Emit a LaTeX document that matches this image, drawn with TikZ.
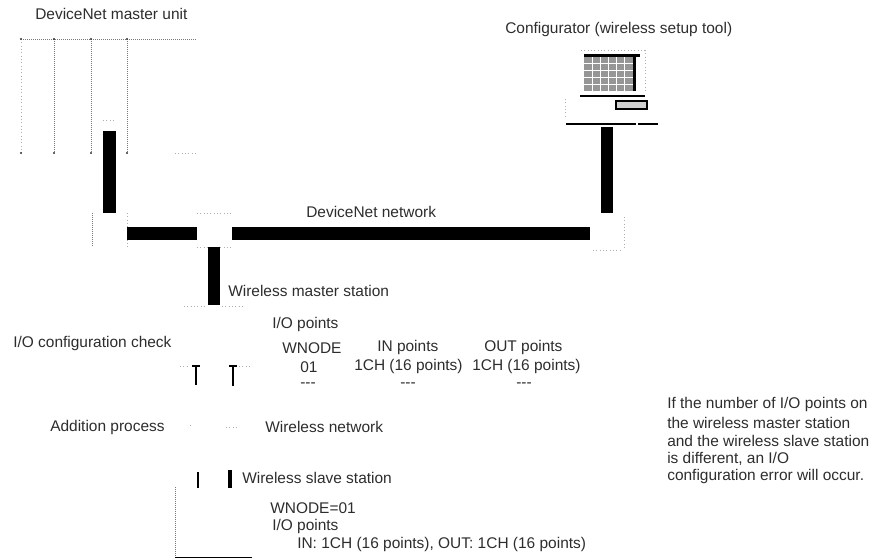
\documentclass[tikz,border=0pt]{standalone}
\usepackage{fontspec}
\setmainfont{Liberation Sans}
\definecolor{labelgray}{RGB}{45,45,45}
\definecolor{screengray}{RGB}{150,150,150}
\definecolor{dotgray}{RGB}{120,120,120}
\tikzset{
  lbl/.style={anchor=west,inner sep=0pt,font=\fontsize{11.6}{13}\selectfont,text=labelgray},
  netbar/.style={black,line width=9.6pt},
  dotline/.style={dotgray,line width=0.5pt,densely dotted},
  fadeline/.style={dotgray!60,line width=0.5pt,dotted},
  thinbar/.style={black,line width=2.2pt}
}
\newcommand{\dotstretch}[2]{%
  \draw[fadeline] (#1) -- (#2);
}
\begin{document}
\begin{tikzpicture}[x=0.75pt,y=-0.75pt]
    \useasboundingbox (0,0) rectangle (876,559);
    % master unit
    \coordinate (unitnw) at (21,39);
    \coordinate (unitne) at (197,39);
    \coordinate (slotb) at (54,39);
    \coordinate (slotc) at (91,39);
    \coordinate (slotd) at (127,39);
    \draw[dotline] (unitnw) -- (unitne);
    \dotstretch{unitnw}{21,153}
    \draw[dotline] (slotb) -- (54,153);
    \draw[dotline] (slotc) -- (91,153);
    \draw[dotline] (slotd) -- (127,153);
    \dotstretch{175,153}{197,153}
    \dotstretch{103,120}{116,120}
    \foreach \px in {21,54,91,127} {
      \fill[black!80] (\px,39) circle (0.9pt);
      \fill[black!80] (\px,153) circle (0.8pt);
    }
    % tee boxes on the network
    \coordinate (unittop) at (109.5,131);
    \coordinate (teeleft) at (109.5,213);
    \coordinate (teeleftout) at (127,233.5);
    \coordinate (teemidin) at (197,233.5);
    \coordinate (teemidout) at (232,233.5);
    \coordinate (teerightin) at (590,233.5);
    \coordinate (teemidbot) at (214,247);
    \coordinate (masterbot) at (214,305);
    \coordinate (pcbot) at (607,127);
    \coordinate (pctee) at (607,213);
    \draw[dotline] (92,213) -- (92,247);
    \dotstretch{127,213}{127,247}
    \dotstretch{197,213}{232,213}
    \dotstretch{197,247}{232,247}
    \dotstretch{624,217}{624,250}
    \dotstretch{593,250}{622,250}
    \draw[netbar] (unittop) -- (teeleft);
    \draw[netbar] (teeleftout) -- (teemidin);
    \draw[netbar] (teemidout) -- (teerightin);
    \draw[netbar] (teemidbot) -- (masterbot);
    \draw[netbar] (pcbot) -- (pctee);
    % configurator
    \coordinate (screennw) at (584,56);
    \coordinate (screense) at (633,91);
    \path[fill=screengray] (screennw) rectangle (screense);
    \foreach \gx in {592,600,608,616,624} {
      \draw[white,line width=0.5pt] (\gx,56) -- (\gx,91);
    }
    \foreach \gy in {63,70,77,84} {
      \draw[white,line width=0.5pt] (584,\gy) -- (633,\gy);
    }
    \draw[black,line width=1.6pt] (584,55.5) -- (640,55.5);
    \draw[black,line width=2pt] (634.5,56) -- (634.5,91);
    \draw[black,line width=1.8pt] (580,96) -- (645,96);
    \dotstretch{581,50}{645,50}
    \dotstretch{645,50}{645,92}
    \dotstretch{565,99}{565,118}
    \draw[black,line width=1pt,fill=screengray!45] (616,101) rectangle (647,109);
    \draw[black,line width=1.5pt] (566,124) -- (636,124);
    \draw[black,line width=1.5pt] (638,124) -- (658,124);
    % wireless links
    \coordinate (linka) at (196,366);
    \coordinate (linkb) at (233,366);
    \draw[thinbar] (linka) -- (196,385);
    \draw[thinbar] (linkb) -- (233,386);
    \draw[black,line width=0.8pt] (192,366) -- (200,366);
    \draw[black,line width=0.8pt] (229,366) -- (237,366);
    \dotstretch{180,366}{190,366}
    \dotstretch{239,366}{250,366}
    \dotstretch{184,306}{206,306}
    \dotstretch{222,306}{244,306}
    \dotstretch{190,425}{193,425}
    \dotstretch{226,427}{238,427}
    \draw[thinbar] (198,472) -- (198,488);
    \draw[black,line width=3pt] (230,470) -- (230,488);
    % slave station
    \coordinate (slavenw) at (175,487);
    \coordinate (slavesw) at (175,557);
    \draw[dotline] (slavenw) -- (slavesw);
    \draw[black,line width=0.7pt] (slavesw) -- (252,557);
    % labels
    \node[lbl] (unitlbl) at (35,14) {DeviceNet master unit};
    \node[lbl] (pclbl) at (505,30) {Configurator (wireless setup tool)};
    \node[lbl] (netlbl) at (306,212) {DeviceNet network};
    \node[lbl] (masterlbl) at (228,291) {Wireless master station};
    \node[lbl] (iolbl) at (272,325) {I/O points};
    \node[lbl] (checklbl) at (13,344) {I/O configuration check};
    \node[lbl] (wnodelbl) at (282,348) {WNODE};
    \node[lbl] (inlbl) at (377,348) {IN points};
    \node[lbl] (outlbl) at (484,348) {OUT points};
    \node[lbl] (nodenum) at (300,367) {01};
    \node[lbl] (inval) at (354,367) {1CH (16 points)};
    \node[lbl] (outval) at (472,367) {1CH (16 points)};
    \node[lbl] (dasha) at (300,385) {-{}-{}-};
    \node[lbl] (dashb) at (400,385) {-{}-{}-};
    \node[lbl] (dashc) at (516,385) {-{}-{}-};
    \node[lbl] (addlbl) at (50,428) {Addition process};
    \node[lbl] (wnetlbl) at (265,427) {Wireless network};
    \node[lbl] (slavelbl) at (242,478) {Wireless slave station};
    \node[lbl] (wnodeset) at (270,508) {WNODE=01};
    \node[lbl] (iopts) at (272,527) {I/O points};
    \node[lbl] (iodetail) at (297,545) {IN: 1CH (16 points), OUT: 1CH (16 points)};
    \node[lbl] (notea) at (667,405) {If the number of I/O points on};
    \node[lbl] (noteb) at (667,423) {the wireless master station};
    \node[lbl] (notec) at (667,441) {and the wireless slave station};
    \node[lbl] (noted) at (667,459) {is different, an I/O};
    \node[lbl] (notee) at (667,477) {configuration error will occur.};
  \end{tikzpicture}
\end{document}
